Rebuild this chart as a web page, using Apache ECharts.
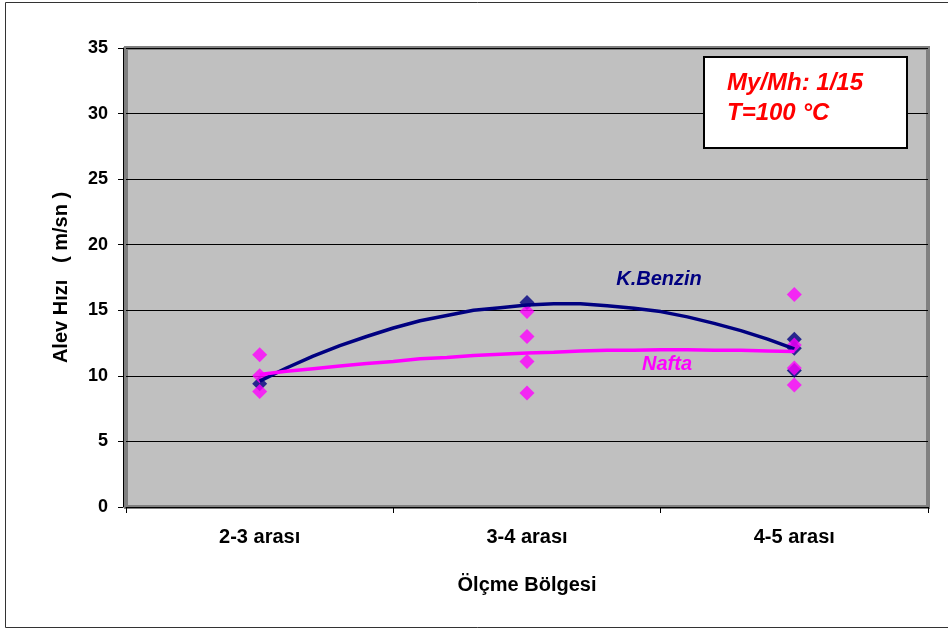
<!DOCTYPE html>
<html><head><meta charset="utf-8">
<script src="https://cdn.jsdelivr.net/npm/echarts@6/dist/echarts.min.js"></script>
<style>html,body{margin:0;padding:0;background:#fff}#c{width:948px;height:630px}</style>
</head><body><div id="c"></div>
<script>
// ---- data ----
const categories = ['2-3 arası', '3-4 arası', '4-5 arası'];
const yMin = 0, yMax = 35, yStep = 5;

// measured points (x = category position 1..3)
const benzinX = [1, 2, 3, 3, 3];
const benzinY = [9.4, 15.6, 12.8, 12.1, 10.4];
const naftaX = [1, 1, 1, 2, 2, 2, 2, 3, 3, 3, 3];
const naftaY = [11.6, 10.0, 8.8, 14.9, 13.0, 11.1, 8.7, 16.2, 12.35, 10.6, 9.3];

// trend curves
const trendX = [1.0, 1.1, 1.2, 1.3, 1.4, 1.5, 1.6, 1.7, 1.8, 1.9, 2.0, 2.1, 2.2, 2.3, 2.4, 2.5, 2.6, 2.7, 2.8, 2.9, 3.0];
const benzinTrend = [9.6, 10.6, 11.5, 12.3, 13.0, 13.65, 14.2, 14.6, 15.0, 15.2, 15.4, 15.5, 15.5, 15.35, 15.15, 14.9, 14.5, 14.0, 13.45, 12.8, 12.05];
const naftaTrend = [10.1, 10.35, 10.55, 10.75, 10.95, 11.1, 11.3, 11.4, 11.55, 11.65, 11.75, 11.8, 11.9, 11.95, 11.95, 12.0, 12.0, 11.95, 11.95, 11.9, 11.85];

const labelsText = { benzin: 'K.Benzin', nafta: 'Nafta', box1: 'My/Mh: 1/15', box2: 'T=100 °C' };
const xTitle = 'Ölçme Bölgesi';
const yTitle = 'Alev Hızı   ( m/sn )';

const zip = (xs, ys) => xs.map((x, i) => [x, ys[i]]);
const FONT = '"Liberation Sans", Arial, sans-serif';

const chart = echarts.init(document.getElementById('c'));
chart.setOption({
  animation: false,
  backgroundColor: '#ffffff',
  grid: {
    left: 126, right: 20, top: 48, bottom: 123,
    show: true, backgroundColor: '#C0C0C0', borderColor: '#808080', borderWidth: 4
  },
  xAxis: [
    {
      type: 'category', data: categories, boundaryGap: true, position: 'bottom',
      axisLine: { show: true, lineStyle: { color: '#000', width: 1 } },
      axisTick: { show: true, length: 6, lineStyle: { color: '#000' } },
      axisLabel: { color: '#000', fontFamily: FONT, fontWeight: 'bold', fontSize: 20, margin: 20 },
      name: xTitle, nameLocation: 'middle', nameGap: 68,
      nameTextStyle: { color: '#000', fontFamily: FONT, fontWeight: 'bold', fontSize: 20 },
      splitLine: { show: false }
    },
    { type: 'value', min: 0.5, max: 3.5, show: false, splitLine: { show: false } }
  ],
  yAxis: {
    type: 'value', min: yMin, max: yMax, interval: yStep, offset: 3,
    axisLine: { show: true, lineStyle: { color: '#000', width: 1 } },
    axisTick: { show: true, length: 5, lineStyle: { color: '#000' } },
    axisLabel: { color: '#000', fontFamily: FONT, fontWeight: 'bold', fontSize: 18, margin: 15 },
    splitLine: { show: true, lineStyle: { color: '#000', width: 1 } },
    name: yTitle, nameLocation: 'middle', nameGap: 52, nameRotate: 90,
    nameTextStyle: { color: '#000', fontFamily: FONT, fontWeight: 'bold', fontSize: 20 }
  },
  series: [
    { name: 'K.Benzin', type: 'scatter', xAxisIndex: 1, data: zip(benzinX, benzinY),
      symbol: 'diamond', symbolSize: 15, itemStyle: { color: '#000080' }, z: 2 },
    { name: 'Nafta', type: 'scatter', xAxisIndex: 1, data: zip(naftaX, naftaY),
      symbol: 'diamond', symbolSize: 15, itemStyle: { color: '#FF00FF' }, z: 3 },
    { name: 'K.Benzin trend', type: 'line', xAxisIndex: 1, data: zip(trendX, benzinTrend),
      showSymbol: false, symbol: 'none', lineStyle: { color: '#000080', width: 3.5 }, z: 4 },
    { name: 'Nafta trend', type: 'line', xAxisIndex: 1, data: zip(trendX, naftaTrend),
      showSymbol: false, symbol: 'none', lineStyle: { color: '#FF00FF', width: 3.5 }, z: 5 }
  ],
  graphic: [
    { type: 'rect', left: 3, top: 0, shape: { width: 960, height: 625 }, silent: true,
      style: { fill: 'none', stroke: '#333', lineWidth: 1 }, z: -1 },
    { type: 'rect', shape: { x: 704, y: 57, width: 203, height: 91 },
      style: { fill: '#fff', stroke: '#000', lineWidth: 2 }, z: 100 },
    { type: 'text', x: 727, y: 83, style: { text: labelsText.box1, fill: '#FF0000',
      font: 'italic bold 24px ' + FONT, textVerticalAlign: 'middle' }, z: 101 },
    { type: 'text', x: 727, y: 113, style: { text: labelsText.box2, fill: '#FF0000',
      font: 'italic bold 24px ' + FONT, textVerticalAlign: 'middle' }, z: 101 },
    { type: 'text', x: 659, y: 279, style: { text: labelsText.benzin, fill: '#000080',
      font: 'italic bold 20px ' + FONT, textAlign: 'center', textVerticalAlign: 'middle' }, z: 101 },
    { type: 'text', x: 667, y: 364, style: { text: labelsText.nafta, fill: '#FF00FF',
      font: 'italic bold 20px ' + FONT, textAlign: 'center', textVerticalAlign: 'middle' }, z: 101 }
  ]
});
</script>
</body></html>
